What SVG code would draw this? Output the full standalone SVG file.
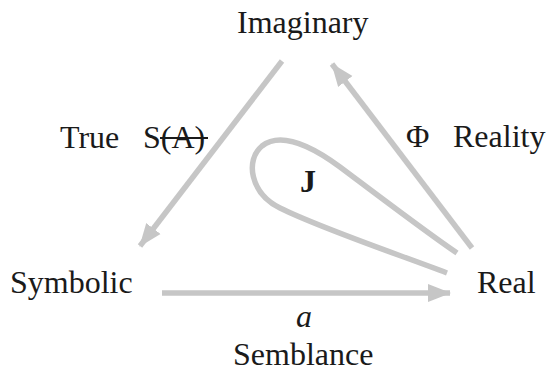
<svg xmlns="http://www.w3.org/2000/svg" width="550" height="377" viewBox="0 0 550 377">
<style>
text{font-family:'Liberation Serif','DejaVu Serif','Times New Roman',serif;font-size:32px;fill:#1a1a1a}
.c{fill:none;stroke:#c6c6c6;stroke-width:5.5}
</style>
<defs>
<marker id="ah" markerUnits="userSpaceOnUse" markerWidth="24" markerHeight="20" refX="22" refY="10" orient="auto">
<path d="M0,1 L23,10 L0,19 Z" fill="#c6c6c6"/>
</marker>
</defs>
<rect width="550" height="377" fill="#fff"/>
<g id="connectors">
<line class="c" x1="282" y1="61" x2="140" y2="246" marker-end="url(#ah)"/>
<line class="c" x1="472" y1="248" x2="332" y2="64" marker-end="url(#ah)"/>
<line class="c" x1="162" y1="293" x2="450" y2="293" marker-end="url(#ah)"/>
<path id="loop" class="c" d="M447,273 C400,255 320,228 280,208 C250,193 245,160 262,146 C280,132 310,145 340,167 C380,197 430,235 457,253"/>
</g>
<g id="imaginary"><text x="237" y="33">Imaginary</text></g>
<g id="symbolic"><text x="10" y="293">Symbolic</text></g>
<g id="real"><text x="477" y="293">Real</text></g>
<g id="semblance"><text x="233" y="365">Semblance</text><text x="296" y="327" font-style="italic">a</text></g>
<g id="true"><text x="60" y="148">True</text><text x="143" y="148">S(A)</text><line x1="160" y1="138" x2="208" y2="138" stroke="#1a1a1a" stroke-width="2"/></g>
<g id="reality"><text x="406" y="147">Φ</text><text x="453" y="147">Reality</text></g>
<g id="j"><text x="300" y="192" font-weight="bold">J</text></g>
</svg>
